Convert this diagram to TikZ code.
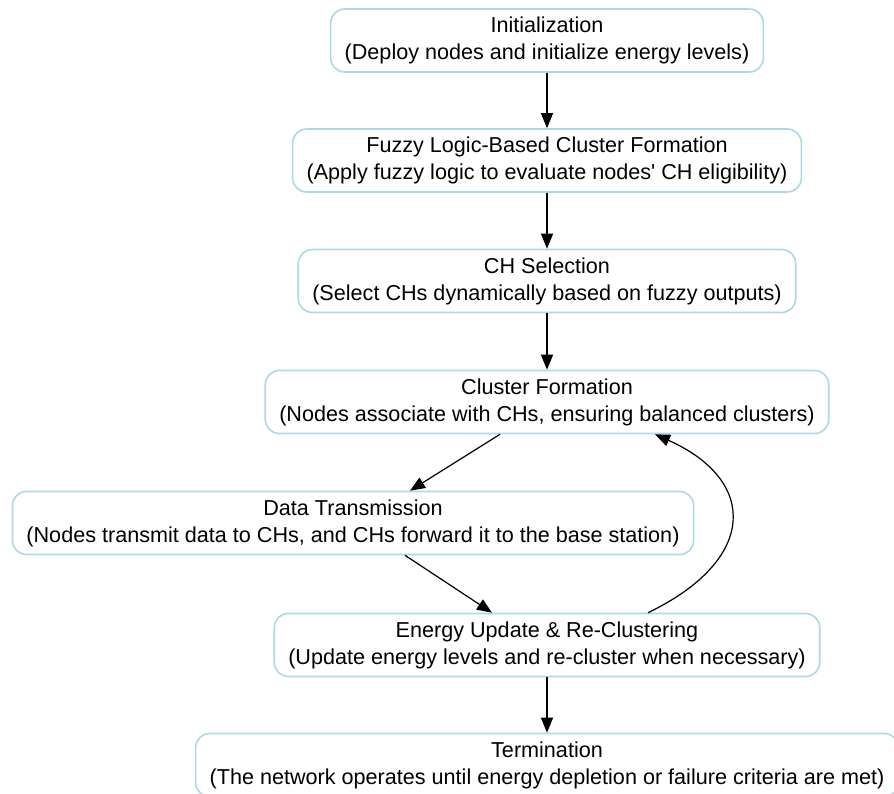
\documentclass[tikz,border=0pt]{standalone}
\usepackage{fontspec}
\setmainfont{Liberation Sans}
\usetikzlibrary{arrows.meta}
\definecolor{boxblue}{RGB}{173,216,230}
\begin{document}
\begin{tikzpicture}[x=1pt,y=-1pt,
  stepbox/.style={draw=boxblue, line width=1.6pt, rounded corners=14pt,
    fill=white, align=center, inner xsep=14pt, minimum height=63pt,
    font=\fontsize{21.6}{27}\selectfont},
  flow/.style={draw, line width=1.2pt, -{Triangle[length=15pt,width=12pt]}}]
\useasboundingbox (0,0) rectangle (894,794);
\node[stepbox] (1) at (547,40.5) {Initialization\\(Deploy nodes and initialize energy levels)};
\node[stepbox] (2) at (547,160.5) {Fuzzy Logic-Based Cluster Formation\\(Apply fuzzy logic to evaluate nodes\textquotesingle{} CH eligibility)};
\node[stepbox] (3) at (547,281) {CH Selection\\(Select CHs dynamically based on fuzzy outputs)};
\node[stepbox] (4) at (547,402) {Cluster Formation\\(Nodes associate with CHs, ensuring balanced clusters)};
\node[stepbox] (5) at (353,523) {Data Transmission\\(Nodes transmit data to CHs, and CHs forward it to the base station)};
\node[stepbox] (6) at (547,645) {Energy Update \& Re-Clustering\\(Update energy levels and re-cluster when necessary)};
\node[stepbox] (7) at (547,765) {Termination\\(The network operates until energy depletion or failure criteria are met)};
\path[flow] (1) -- (2);
\path[flow] (2) -- (3);
\path[flow] (3) -- (4);
\path[flow] ([xshift=-47pt]4.south) -- ([xshift=57pt]5.north);
\path[flow] ([xshift=52pt]5.south) -- ([xshift=-55pt]6.north);
\path[flow] ([xshift=101pt]6.north) .. controls +(110,-53) and +(103,46) .. ([xshift=108pt]4.south);
\path[flow] (6) -- (7);
\end{tikzpicture}
\end{document}
